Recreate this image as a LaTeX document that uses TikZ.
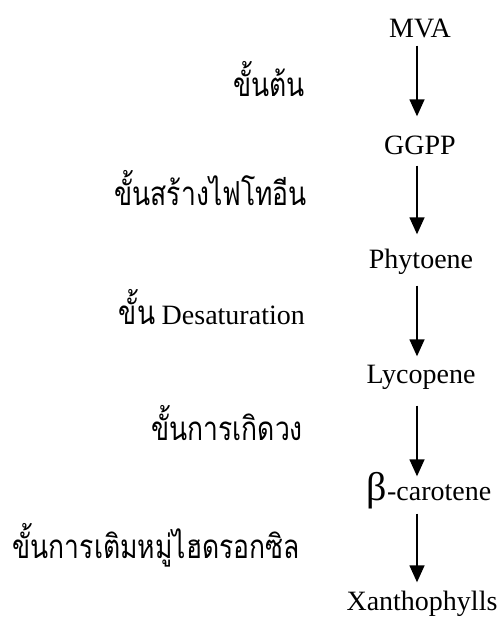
\documentclass[tikz,border=0pt]{standalone}
\usepackage{fontspec}
\setmainfont{Liberation Serif}
\newfontfamily\thaifont[Script=Thai]{Loma}
\newcommand{\thaitext}[1]{\scalebox{1}[1.25]{\thaifont #1}}
\usetikzlibrary{arrows.meta}
\tikzset{
  chem/.style={font=\fontsize{28}{30}\selectfont, inner sep=0pt, anchor=base, text height=0pt, text depth=0pt},
  stage/.style={font=\fontsize{26.5}{30}\selectfont, inner sep=0pt, anchor=base east},
  arr/.style={line width=1.5pt, -{Triangle[width=15pt,length=17pt]}},
}
\begin{document}
\begin{tikzpicture}[x=1pt,y=-1pt]
\useasboundingbox (0,0) rectangle (496,621);
\node[chem] (mva) at (420,37) {MVA};
\node[chem] (ggpp) at (420,154) {GGPP};
\node[chem] (phy) at (421,268) {Phytoene};
\node[chem] (lyc) at (421,383) {Lycopene};
\node[chem] (bc) at (429,500) {{\fontsize{40}{40}\selectfont β}-carotene};
\node[chem] (xan) at (422,610) {Xanthophylls};
\draw[arr, shorten <=8pt, shorten >=37pt] ([xshift=-3pt]mva.south) -- ([xshift=-3pt]ggpp.north);
\draw[arr, shorten <=11pt, shorten >=33pt] ([xshift=-3pt]ggpp.south) -- ([xshift=-4pt]phy.north);
\draw[arr, shorten <=17pt, shorten >=26pt] ([xshift=-4pt]phy.south) -- ([xshift=-4pt]lyc.north);
\draw[arr, shorten <=22pt, shorten >=23pt] ([xshift=-4pt]lyc.south) -- ([xshift=-12pt]bc.north);
\draw[arr, shorten <=13pt, shorten >=27pt] ([xshift=-12pt]bc.south) -- ([xshift=-5pt]xan.north);
\node[stage] (s1) at (305,96) {\thaitext{ขั้นต้น}};
\node[stage] (s2) at (307,205) {\thaitext{ขั้นสร้างไฟโทอีน}};
\node[stage] (s3) at (305,324) {\thaitext{ขั้น} {\fontsize{28}{30}\selectfont Desaturation}};
\node[stage] (s4) at (303,440) {\thaitext{ขั้นการเกิดวง}};
\node[stage] (s5) at (300,558) {\thaitext{ขั้นการเติมหมู่ไฮดรอกซิล}};
\end{tikzpicture}
\end{document}
